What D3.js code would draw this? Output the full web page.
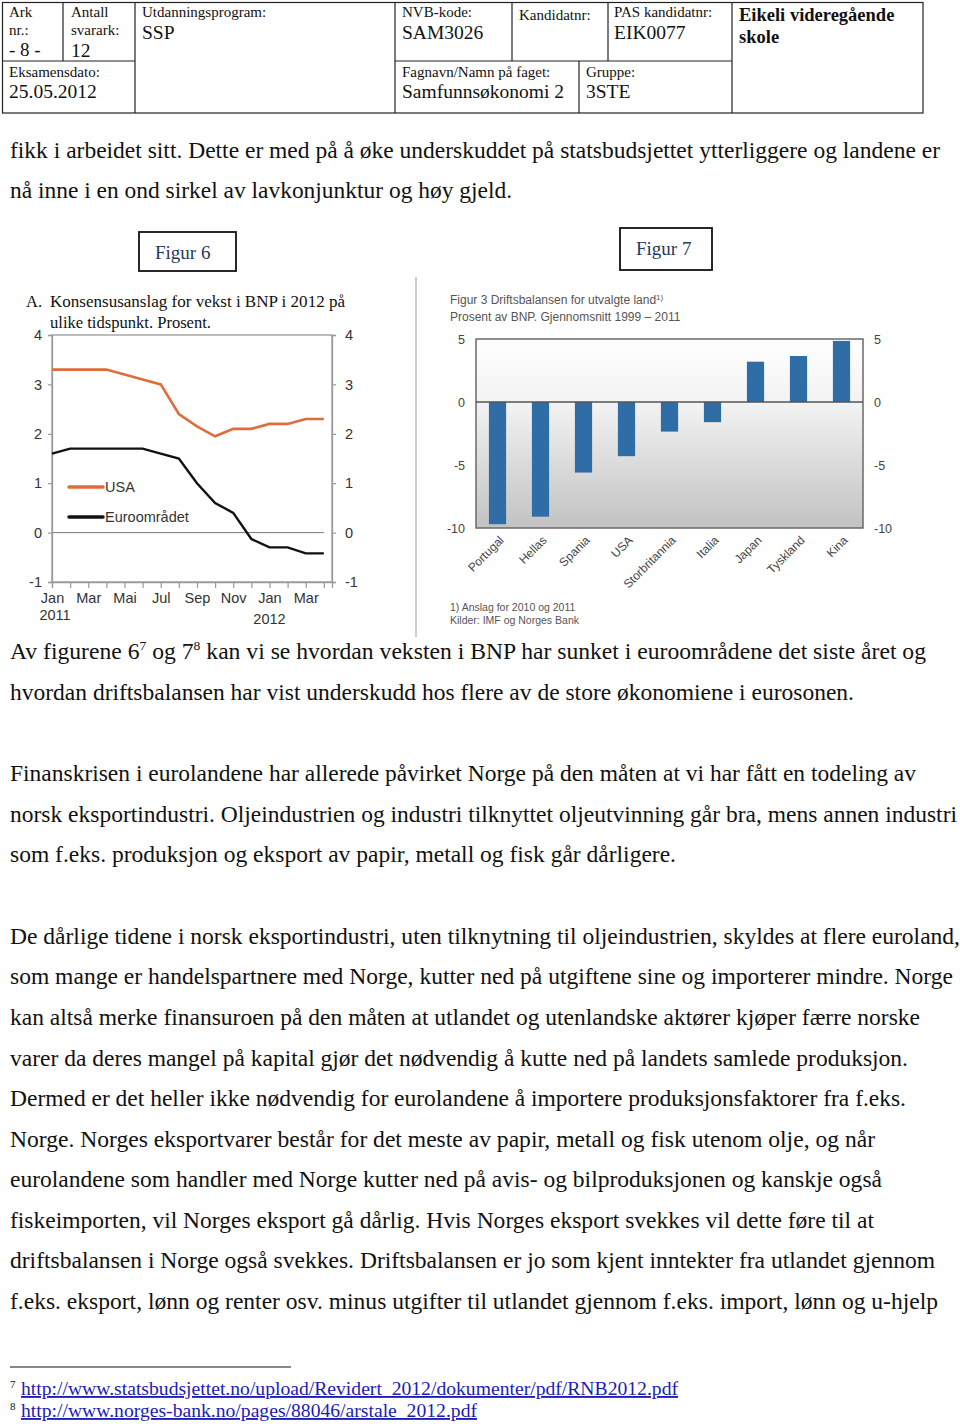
<!DOCTYPE html>
<html><head><meta charset="utf-8">
<script src="https://cdn.jsdelivr.net/npm/d3@7"></script>
<style>
html,body{margin:0;padding:0;background:#fff;}
svg{display:block;}
</style></head>
<body>
<svg id="page" width="960" height="1424"></svg>
<script>
// ---------- DATA ----------
const monthIdx = d3.range(16); // Jan 2011 .. Apr 2012
const monthLabels = ["Jan","","Mar","","Mai","","Jul","","Sep","","Nov","","Jan","","Mar",""];
const usaValues  = [3.3,3.3,3.3,3.3,3.2,3.1,3.0,2.4,2.15,1.95,2.1,2.1,2.2,2.2,2.3,2.3];
const euroValues = [1.6,1.7,1.7,1.7,1.7,1.7,1.6,1.5,1.0,0.6,0.4,-0.13,-0.3,-0.3,-0.42,-0.42];
const fig6Ticks = [-1,0,1,2,3,4];

const countries = ["Portugal","Hellas","Spania","USA","Storbritannia","Italia","Japan","Tyskland","Kina"];
const balance   = [-9.7,-9.1,-5.6,-4.3,-2.35,-1.6,3.2,3.65,4.85];
const fig7Ticks = [-10,-5,0,5];

const bodyLines = [
 {t:"fikk i arbeidet sitt. Dette er med på å øke underskuddet på statsbudsjettet ytterliggere og landene er", w:930, y:151},
 {t:"nå inne i en ond sirkel av lavkonjunktur og høy gjeld.", w:502, y:191},
 {t:"Av figurene 6|7| og 7|8| kan vi se hvordan veksten i BNP har sunket i euroområdene det siste året og", w:916, y:652},
 {t:"hvordan driftsbalansen har vist underskudd hos flere av de store økonomiene i eurosonen.", w:844, y:693},
 {t:"Finanskrisen i eurolandene har allerede påvirket Norge på den måten at vi har fått en todeling av", w:906, y:774},
 {t:"norsk eksportindustri. Oljeindustrien og industri tilknyttet oljeutvinning går bra, mens annen industri", w:947, y:815},
 {t:"som f.eks. produksjon og eksport av papir, metall og fisk går dårligere.", w:666, y:855},
 {t:"De dårlige tidene i norsk eksportindustri, uten tilknytning til oljeindustrien, skyldes at flere euroland,", w:950, y:937},
 {t:"som mange er handelspartnere med Norge, kutter ned på utgiftene sine og importerer mindre. Norge", w:943, y:977},
 {t:"kan altså merke finansuroen på den måten at utlandet og utenlandske aktører kjøper færre norske", w:910, y:1018},
 {t:"varer da deres mangel på kapital gjør det nødvendig å kutte ned på landets samlede produksjon.", w:898, y:1059},
 {t:"Dermed er det heller ikke nødvendig for eurolandene å importere produksjonsfaktorer fra f.eks.", w:896, y:1099},
 {t:"Norge. Norges eksportvarer består for det meste av papir, metall og fisk utenom olje, og når", w:865, y:1140},
 {t:"eurolandene som handler med Norge kutter ned på avis- og bilproduksjonen og kanskje også", w:872, y:1180},
 {t:"fiskeimporten, vil Norges eksport gå dårlig. Hvis Norges eksport svekkes vil dette føre til at", w:864, y:1221},
 {t:"driftsbalansen i Norge også svekkes. Driftsbalansen er jo som kjent inntekter fra utlandet gjennom", w:925, y:1261},
 {t:"f.eks. eksport, lønn og renter osv. minus utgifter til utlandet gjennom f.eks. import, lønn og u-hjelp", w:928, y:1302}
];

const footnotes = [
 {n:"7", url:"http://www.statsbudsjettet.no/upload/Revidert_2012/dokumenter/pdf/RNB2012.pdf", w:657, y:1389},
 {n:"8", url:"http://www.norges-bank.no/pages/88046/arstale_2012.pdf", w:456, y:1411}
];

// ---------- PAGE ----------
const svg = d3.select("#page");
const serif = "'Liberation Serif','Times New Roman',serif";
const sans = "'Liberation Sans',Arial,sans-serif";
const fmt = d => String(d); // plain hyphen-minus like the original

// Header table
const H = svg.append("g").attr("stroke","#222").attr("stroke-width",1.2).attr("fill","none");
const hl = (x1,y1,x2,y2)=>H.append("line").attr("x1",x1).attr("y1",y1).attr("x2",x2).attr("y2",y2);
H.append("rect").attr("x",2.5).attr("y",2.5).attr("width",920.5).attr("height",110.5);
hl(2.5,61,135,61); hl(395,61,732,61);
hl(63,2.5,63,61); hl(135,2.5,135,113); hl(395,2.5,395,113);
hl(512,2.5,512,61); hl(608,2.5,608,61); hl(579,61,579,113); hl(732,2.5,732,113);

const htxt = (x,y,t,size,weight)=>svg.append("text").attr("x",x).attr("y",y).text(t)
  .attr("font-family",serif).attr("font-size",size).attr("font-weight",weight||"normal").attr("fill","#111");
htxt(9,17,"Ark",15); htxt(9,35,"nr.:",15); htxt(9,56,"- 8 -",19);
htxt(71,17,"Antall",15); htxt(71,35,"svarark:",15); htxt(71,57,"12",19.5);
htxt(9,77,"Eksamensdato:",15); htxt(9,98,"25.05.2012",19.5);
htxt(142,17,"Utdanningsprogram:",15); htxt(142,39,"SSP",19.5);
htxt(402,17,"NVB-kode:",15); htxt(402,39,"SAM3026",19.5);
htxt(519,20,"Kandidatnr:",15);
htxt(614,17,"PAS kandidatnr:",15); htxt(614,39,"EIK0077",19.5);
htxt(739,21,"Eikeli videregående",18.5,"bold"); htxt(739,43,"skole",18.5,"bold");
htxt(402,77,"Fagnavn/Namn på faget:",15); htxt(402,98,"Samfunnsøkonomi 2",19.5);
htxt(586,77,"Gruppe:",15); htxt(586,98,"3STE",19.5);

// Body text
bodyLines.forEach(l=>{
  const t = svg.append("text").attr("x",10).attr("y",l.y+7)
    .attr("font-family",serif).attr("font-size",22.5).attr("fill","#111")
    .attr("textLength",l.w).attr("lengthAdjust","spacingAndGlyphs");
  const parts = l.t.split("|");
  parts.forEach((p,i)=>{
    if(i%2===1){
      t.append("tspan").attr("dy",-9).attr("font-size",13).text(p);
    } else {
      const s = t.append("tspan").text(p);
      if(i>0) s.attr("dy",9);
    }
  });
});

// Figure label boxes
[{x:139,y:232,w:97,h:39,t:"Figur 6",tx:155,ty:259},{x:620,y:228,w:92,h:42,t:"Figur 7",tx:636,ty:255}].forEach(b=>{
  svg.append("rect").attr("x",b.x).attr("y",b.y).attr("width",b.w).attr("height",b.h)
    .attr("fill","#fff").attr("stroke","#111").attr("stroke-width",1.8);
  svg.append("text").attr("x",b.tx).attr("y",b.ty).text(b.t).attr("font-family",serif)
    .attr("font-size",19).attr("fill","#1f3a5c");
});

// Divider
svg.append("line").attr("x1",416).attr("x2",416).attr("y1",277).attr("y2",637).attr("stroke","#aaa").attr("stroke-width",1.2);

// ---------- FIGURE 6 ----------
const f6 = svg.append("g");
const x6 = d3.scaleLinear().domain([0,15.45]).range([52,332]);
const y6 = d3.scaleLinear().domain([-1,4]).range([582,335]);
f6.append("text").attr("x",26).attr("y",307).text("A.").attr("font-family",serif).attr("font-size",16.5).attr("fill","#111");
f6.append("text").attr("x",50).attr("y",307).text("Konsensusanslag for vekst i BNP i 2012 på")
  .attr("font-family",serif).attr("font-size",16.5).attr("fill","#111").attr("textLength",295).attr("lengthAdjust","spacingAndGlyphs");
f6.append("text").attr("x",50).attr("y",328).text("ulike tidspunkt. Prosent.")
  .attr("font-family",serif).attr("font-size",16.5).attr("fill","#111").attr("textLength",161).attr("lengthAdjust","spacingAndGlyphs");

// frame
f6.append("rect").attr("x",x6.range()[0]).attr("y",y6(4)).attr("width",x6.range()[1]-x6.range()[0])
  .attr("height",y6(-1)-y6(4)).attr("fill","none").attr("stroke","#9a9a9a").attr("stroke-width",1.3);
// zero line
f6.append("line").attr("x1",x6(0)).attr("x2",x6(15)).attr("y1",y6(0)).attr("y2",y6(0)).attr("stroke","#777").attr("stroke-width",1);

const axL6 = f6.append("g").attr("transform",`translate(${x6.range()[0]},0)`)
  .call(d3.axisLeft(y6).tickValues(fig6Ticks).tickSize(4).tickPadding(6).tickFormat(fmt));
const axR6 = f6.append("g").attr("transform",`translate(${x6.range()[1]},0)`)
  .call(d3.axisRight(y6).tickValues(fig6Ticks).tickSize(4).tickPadding(9).tickFormat(fmt));
const axB6 = f6.append("g").attr("transform",`translate(0,${y6(-1)})`)
  .call(d3.axisBottom(x6).tickValues(monthIdx).tickSize(6).tickPadding(5).tickFormat(i=>monthLabels[i]));
[axL6,axR6,axB6].forEach(a=>{
  a.select(".domain").attr("stroke","#9a9a9a").attr("stroke-width",1.3);
  a.selectAll(".tick line").attr("stroke","#9a9a9a").attr("stroke-width",1.2);
  a.selectAll("text").attr("font-family",sans).attr("font-size",14.5).attr("fill","#333");
});
axB6.selectAll("text").attr("font-size",14.5);
f6.append("text").attr("x",x6(0)+3).attr("y",620).attr("text-anchor","middle").text("2011").attr("font-family",sans).attr("font-size",14.5).attr("fill","#333");
f6.append("text").attr("x",x6(12)).attr("y",624).attr("text-anchor","middle").text("2012").attr("font-family",sans).attr("font-size",14.5).attr("fill","#333");

const line6 = d3.line().x((d,i)=>x6(i)).y(d=>y6(d));
f6.append("path").datum(usaValues).attr("d",line6).attr("fill","none").attr("stroke","#df6d3c").attr("stroke-width",2.6);
f6.append("path").datum(euroValues).attr("d",line6).attr("fill","none").attr("stroke","#111").attr("stroke-width",2.4);

// legend
[{c:"#df6d3c",t:"USA",y:487},{c:"#111",t:"Euroområdet",y:517}].forEach(l=>{
  f6.append("line").attr("x1",69).attr("x2",103).attr("y1",l.y).attr("y2",l.y).attr("stroke",l.c).attr("stroke-width",3.5).attr("stroke-linecap","round");
  f6.append("text").attr("x",105).attr("y",l.y+5).text(l.t).attr("font-family",sans).attr("font-size",14.5).attr("fill","#333");
});

// ---------- FIGURE 7 ----------
const f7 = svg.append("g");
const x7 = d3.scaleBand().domain(countries).range([476,863]).paddingInner(0.6).paddingOuter(0.3);
const y7 = d3.scaleLinear().domain([-10,5]).range([528,339]);

f7.append("text").attr("x",450).attr("y",304).attr("font-family",sans).attr("font-size",12).attr("fill","#555")
  .text("Figur 3 Driftsbalansen for utvalgte land").append("tspan").attr("dy",-4).attr("font-size",8).text("1)");
f7.append("text").attr("x",450).attr("y",321).attr("font-family",sans).attr("font-size",12).attr("fill","#555")
  .text("Prosent av BNP. Gjennomsnitt 1999 – 2011");

const defs = svg.append("defs");
const grad = defs.append("linearGradient").attr("id","bg7").attr("x1",0).attr("y1",0).attr("x2",0).attr("y2",1);
grad.append("stop").attr("offset","0%").attr("stop-color","#ffffff");
grad.append("stop").attr("offset","35%").attr("stop-color","#f2f2f2");
grad.append("stop").attr("offset","100%").attr("stop-color","#c2c2c2");
f7.append("rect").attr("x",476).attr("y",y7(5)).attr("width",387).attr("height",y7(-10)-y7(5))
  .attr("fill","url(#bg7)").attr("stroke","#6a6a6a").attr("stroke-width",1.5);

f7.selectAll("rect.bar").data(countries).join("rect").attr("class","bar")
  .attr("x",d=>x7(d)).attr("width",x7.bandwidth())
  .attr("y",(d,i)=>y7(Math.max(0,balance[i])))
  .attr("height",(d,i)=>Math.abs(y7(balance[i])-y7(0)))
  .attr("fill","#2e6da6");
f7.append("line").attr("x1",476).attr("x2",863).attr("y1",y7(0)).attr("y2",y7(0)).attr("stroke","#555").attr("stroke-width",1.3);

const axL7 = f7.append("g").attr("transform","translate(476,0)")
  .call(d3.axisLeft(y7).tickValues(fig7Ticks).tickSize(0).tickPadding(11).tickFormat(fmt));
const axR7 = f7.append("g").attr("transform","translate(863,0)")
  .call(d3.axisRight(y7).tickValues(fig7Ticks).tickSize(0).tickPadding(11).tickFormat(fmt));
[axL7,axR7].forEach(a=>{
  a.select(".domain").remove();
  a.selectAll("text").attr("font-family",sans).attr("font-size",12.5).attr("fill","#444");
});
const axB7 = f7.append("g").attr("transform",`translate(0,${y7(-10)})`)
  .call(d3.axisBottom(x7).tickSize(0).tickPadding(0));
axB7.select(".domain").remove();
axB7.selectAll("text").attr("font-family",sans).attr("font-size",12).attr("fill","#444")
  .attr("text-anchor","end").attr("dy",0)
  .attr("transform","translate(7,13) rotate(-45)");

f7.append("text").attr("x",450).attr("y",611).text("1) Anslag for 2010 og 2011").attr("font-family",sans).attr("font-size",10.5).attr("fill","#555");
f7.append("text").attr("x",450).attr("y",624).text("Kilder: IMF og Norges Bank").attr("font-family",sans).attr("font-size",10.5).attr("fill","#555");

// ---------- FOOTNOTES ----------
svg.append("line").attr("x1",10).attr("x2",291).attr("y1",1367).attr("y2",1367).attr("stroke","#111").attr("stroke-width",1);
footnotes.forEach(f=>{
  svg.append("text").attr("x",10).attr("y",f.y-1).text(f.n).attr("font-family",serif).attr("font-size",11).attr("fill","#111");
  svg.append("text").attr("x",21).attr("y",f.y+6).text(f.url).attr("font-family",serif).attr("font-size",18.5)
    .attr("fill","#1b1bb8").attr("text-decoration","underline").attr("textLength",f.w).attr("lengthAdjust","spacingAndGlyphs");
});
</script>
</body></html>
